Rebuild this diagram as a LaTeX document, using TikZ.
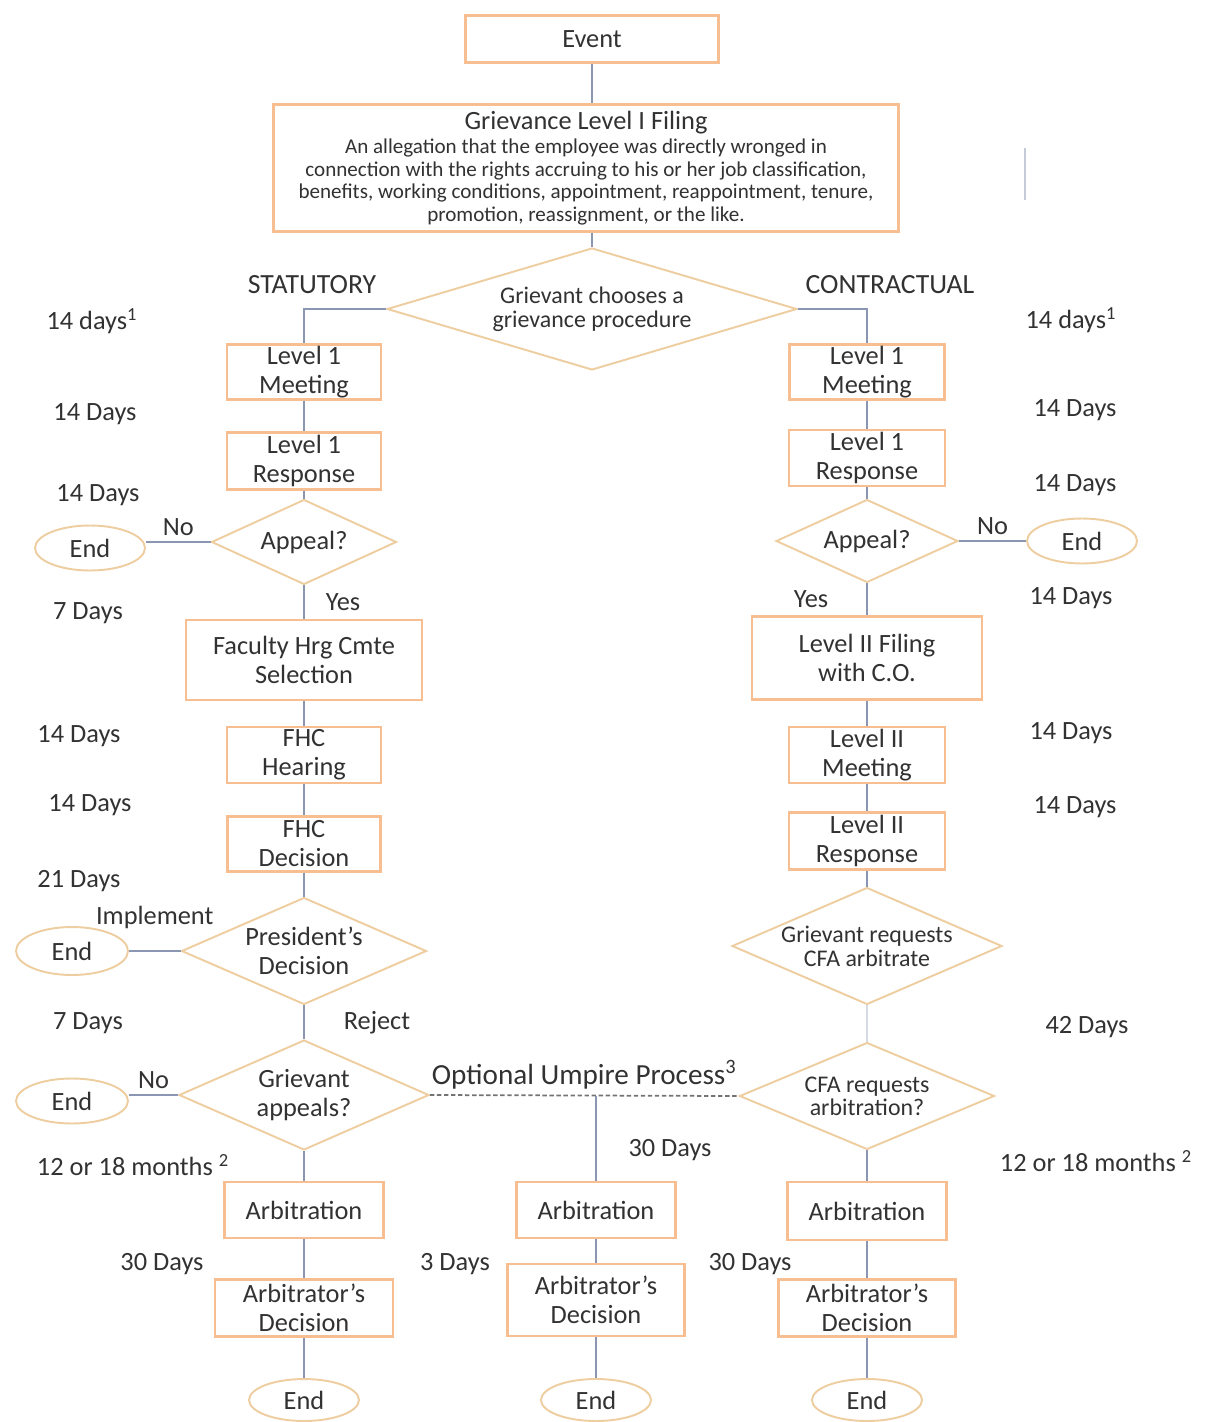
\documentclass[tikz,border=0pt]{standalone}
\usepackage{fontspec}
\setmainfont{Carlito}
\usetikzlibrary{shapes.geometric,positioning}

\definecolor{boxline}{RGB}{246,190,145}
\definecolor{dialine}{RGB}{238,206,160}
\definecolor{linkline}{RGB}{138,150,178}
\definecolor{txt}{RGB}{50,50,50}

\tikzset{
  big/.style={font=\fontsize{15}{16.5}\selectfont},
  small/.style={font=\fontsize{13.6}{13.6}\selectfont},
  box/.style={draw=boxline, line width=1.4pt, fill=white, align=center, text=txt, big, inner sep=0pt},
  choice/.style={diamond, draw=dialine, line width=1.1pt, fill=white, align=center, text=txt, inner sep=0pt},
  endnode/.style={ellipse, draw=dialine, line width=1.1pt, fill=white, text=txt, big, inner sep=0pt},
  link/.style={draw=linkline, line width=1.1pt},
  umpire/.style={draw=black!55, line width=1pt, dash pattern=on 2.5pt off 1.5pt},
  days/.style={text=txt, big},
}

\begin{document}
\begin{tikzpicture}[x=0.02cm, y=-0.02cm]
            \useasboundingbox (0,0) rectangle (1206,1422);
            \node[box, minimum width=5.06cm, minimum height=0.94cm] (event) at (592,39) {Event};
            \node[box, font=\fontsize{12}{12.8}\selectfont, minimum width=12.5cm, minimum height=2.54cm] (filing) at (586,168) {{\fontsize{15}{16.5}\selectfont Grievance Level I Filing}\\[1pt]An allegation that the employee was directly wronged in\\connection with the rights accruing to his or her job classification,\\benefits, working conditions, appointment, reappointment, tenure,\\promotion, reassignment, or the like.};
            \node[choice, small, aspect=3.36, minimum width=8.2cm, minimum height=2.44cm] (choose) at (592,309) {\strut Grievant chooses a\\grievance procedure};
            \node[text=txt, font=\fontsize{15.8}{17}\selectfont] (stat) at (312,285) {STATUTORY};
            \node[text=txt, font=\fontsize{15.8}{17}\selectfont] (cont) at (890,285) {CONTRACTUAL};
            \coordinate (markA) at (1025,148);
            \coordinate (markB) at (1025,200);
            \draw[link, draw=linkline!50] (markA) -- (markB);

            \node[box, minimum width=3.08cm, minimum height=1.1cm] (smeet) at (304,372) {Level 1\\Meeting};
            \node[box, minimum width=3.08cm, minimum height=1.14cm] (sresp) at (304,461) {Level 1\\Response};
            \node[choice, big, aspect=2.18, minimum width=3.7cm, minimum height=1.7cm] (sappeal) at (304,542) {Appeal?};
            \node[endnode, minimum width=2.2cm, minimum height=0.9cm] (send1) at (90,548) {End};
            \node[box, minimum width=4.72cm, minimum height=1.6cm] (sfhc) at (304,660) {Faculty Hrg Cmte\\Selection};
            \node[box, minimum width=3.08cm, minimum height=1.12cm] (shear) at (304,755) {FHC\\Hearing};
            \node[box, minimum width=3.06cm, minimum height=1.1cm] (sdec) at (304,844) {FHC\\Decision};
            \node[choice, big, aspect=2.29, minimum width=4.9cm, minimum height=2.14cm] (spres) at (304,951) {President's\\Decision};
            \node[endnode, minimum width=2.24cm, minimum height=0.96cm] (send2) at (72,951) {End};
            \node[choice, big, aspect=2.27, minimum width=5.0cm, minimum height=2.2cm] (sgapp) at (304,1095) {Grievant\\appeals?};
            \node[endnode, minimum width=2.24cm, minimum height=0.9cm] (send3) at (72,1101) {End};
            \node[box, minimum width=3.18cm, minimum height=1.12cm] (sarb) at (304,1210) {Arbitration};
            \node[box, minimum width=3.56cm, minimum height=1.14cm] (sarbdec) at (304,1308) {Arbitrator's\\Decision};
            \node[endnode, minimum width=2.2cm, minimum height=0.84cm] (send4) at (304,1400) {End};

            \node[box, minimum width=3.18cm, minimum height=1.12cm] (marb) at (596,1210) {Arbitration};
            \node[box, minimum width=3.54cm, minimum height=1.44cm] (marbdec) at (596,1300) {Arbitrator's\\Decision};
            \node[endnode, minimum width=2.2cm, minimum height=0.84cm] (mend) at (596,1400) {End};

            \node[box, minimum width=3.1cm, minimum height=1.1cm] (cmeet) at (867,372) {Level 1\\Meeting};
            \node[box, minimum width=3.12cm, minimum height=1.12cm] (cresp) at (867,458) {Level 1\\Response};
            \node[choice, big, aspect=2.19, minimum width=3.64cm, minimum height=1.66cm] (cappeal) at (867,541) {Appeal?};
            \node[endnode, minimum width=2.2cm, minimum height=0.9cm] (cend1) at (1082,541) {End};
            \node[box, minimum width=4.6cm, minimum height=1.66cm] (clev2) at (867,658) {Level II Filing\\with C.O.};
            \node[box, minimum width=3.12cm, minimum height=1.12cm] (cmeet2) at (867,755) {Level II\\Meeting};
            \node[box, minimum width=3.12cm, minimum height=1.14cm] (cresp2) at (867,841) {Level II\\Response};
            \node[choice, small, aspect=2.3, minimum width=5.4cm, minimum height=2.34cm] (creq) at (867,946) {Grievant requests\\CFA arbitrate};
            \node[choice, font=\fontsize{13.6}{13}\selectfont, aspect=2.38, minimum width=5.1cm, minimum height=2.14cm] (ccfa) at (867,1096) {CFA requests\\arbitration?};
            \node[box, minimum width=3.18cm, minimum height=1.16cm] (carb) at (867,1211) {Arbitration};
            \node[box, minimum width=3.54cm, minimum height=1.14cm] (carbdec) at (867,1308) {Arbitrator's\\Decision};
            \node[endnode, minimum width=2.2cm, minimum height=0.84cm] (cend2) at (867,1400) {End};

            \draw[link] (event) -- (event |- filing.north);
            \draw[link] (filing.south -| choose) -- (choose);
            \draw[link] (choose.west) -| (smeet);
            \draw[link] (choose.east) -| (cmeet);

            \draw[link] (smeet) -- (sresp);
            \draw[link] (sresp) -- (sappeal);
            \draw[link] (sappeal.west) -- node[above, text=txt, big] {No} (sappeal.west -| send1.east);
            \draw[link] (sappeal) -- node[right=0.3cm, text=txt, big] {Yes} (sfhc);
            \draw[link] (sfhc) -- (shear);
            \draw[link] (shear) -- (sdec);
            \draw[link] (sdec) -- (spres);
            \draw[link] (spres) -- node[above=0.3cm, text=txt, big] {Implement} (send2);
            \draw[link] (spres) -- node[right=0.66cm, text=txt, big] {Reject} (sgapp);
            \draw[link] (sgapp.west) -- node[above, text=txt, big] {No} (sgapp.west -| send3.east);
            \draw[link] (sgapp) -- (sarb);
            \draw[link] (sarb) -- (sarbdec);
            \draw[link] (sarbdec) -- (send4);

            \draw[umpire] (sgapp.east) -- node[above, text=txt, font=\fontsize{16.6}{18}\selectfont] {Optional Umpire Process\textsuperscript{3}} coordinate[pos=0.5] (ump) (ccfa.west);
            \draw[link] (marb) -- (marb |- ump);
            \draw[link] (marb) -- (marbdec);
            \draw[link] (marbdec) -- (mend);

            \draw[link] (cmeet) -- (cresp);
            \draw[link] (cresp) -- (cappeal);
            \draw[link] (cappeal) -- node[above, text=txt, big] {No} (cend1);
            \draw[link] (cappeal) -- node[left=0.64cm, text=txt, big] {Yes} (clev2);
            \draw[link] (clev2) -- (cmeet2);
            \draw[link] (cmeet2) -- (cresp2);
            \draw[link] (cresp2) -- (creq);
            \draw[link, draw=linkline!35] (creq) -- (ccfa);
            \draw[link] (ccfa) -- (carb);
            \draw[link] (carb) -- (carbdec);
            \draw[link] (carbdec) -- (cend2);

            \node[days] (sday1) at (92,321) {14 days\textsuperscript{1}};
            \node[days] (sday2) at (95,414) {14 Days};
            \node[days] (sday3) at (98,495) {14 Days};
            \node[days] (sday4) at (88,613) {7 Days};
            \node[days] (sday5) at (79,736) {14 Days};
            \node[days] (sday6) at (90,805) {14 Days};
            \node[days] (sday7) at (79,881) {21 Days};
            \node[days] (sday8) at (88,1023) {7 Days};
            \node[days] (sday9) at (133,1165) {12 or 18 months \textsuperscript{2}};
            \node[days] (sday10) at (162,1264) {30 Days};
            \node[days] (mday1) at (670,1150) {30 Days};
            \node[days] (mday2) at (455,1264) {3 Days};
            \node[days] (cday1) at (1071,320) {14 days\textsuperscript{1}};
            \node[days] (cday2) at (1075,410) {14 Days};
            \node[days] (cday3) at (1075,485) {14 Days};
            \node[days] (cday4) at (1071,598) {14 Days};
            \node[days] (cday5) at (1071,733) {14 Days};
            \node[days] (cday6) at (1075,807) {14 Days};
            \node[days] (cday7) at (1087,1027) {42 Days};
            \node[days] (cday8) at (1096,1161) {12 or 18 months \textsuperscript{2}};
            \node[days] (cday9) at (750,1264) {30 Days};
\end{tikzpicture}
\end{document}
